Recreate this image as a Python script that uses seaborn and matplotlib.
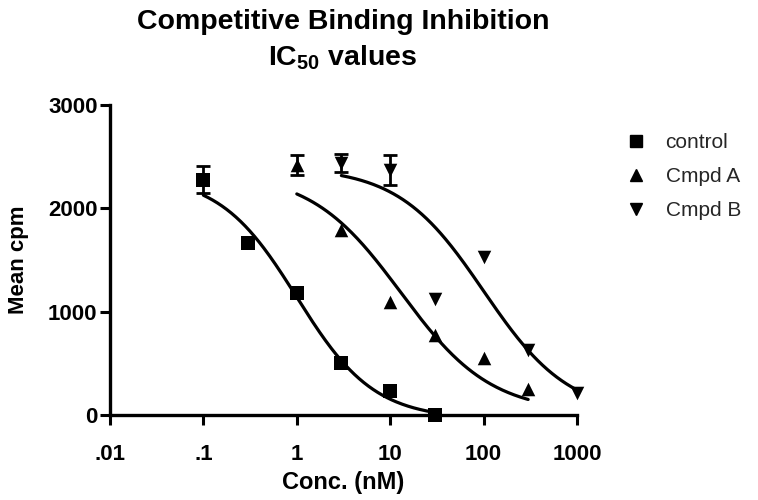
# Competitive binding inhibition - IC50 curves

import numpy as np
import pandas as pd
import matplotlib
matplotlib.use("Agg")
import matplotlib.pyplot as plt
from matplotlib.lines import Line2D
import seaborn as sns

# ------------------------------------------------------------
# DATA
# ------------------------------------------------------------

series_names = ["control", "Cmpd A", "Cmpd B"]
series_markers = ["s", "^", "v"]

conc_control = [0.1, 0.3, 1, 3, 10, 30]
cpm_control = [2275, 1660, 1180, 500, 230, 0]
err_control = [130, 0, 0, 0, 0, 0]

conc_a = [1, 3, 10, 30, 100, 300]
cpm_a = [2420, 1790, 1090, 770, 550, 250]
err_a = [95, 0, 0, 0, 0, 0]

conc_b = [3, 10, 30, 100, 300, 1000]
cpm_b = [2440, 2370, 1120, 1530, 630, 210]
err_b = [85, 145, 0, 0, 0, 0]

# fitted sigmoid parameters
fit_top = [2320, 2350, 2400]
fit_bottom = [-40, 20, 0]
fit_ic50 = [1.0, 13, 100]
fit_hill = [1.05, 0.9, 0.95]

x_ticks = [0.01, 0.1, 1, 10, 100, 1000]
x_tick_labels = [".01", ".1", "1", "10", "100", "1000"]
y_ticks = [0, 1000, 2000, 3000]

# ------------------------------------------------------------
# STYLE
# ------------------------------------------------------------

sns.set_theme(style="ticks")
plt.rcParams["font.family"] = ["Liberation Sans", "DejaVu Sans"]
plt.rcParams["mathtext.fontset"] = "custom"
plt.rcParams["mathtext.rm"] = "Liberation Sans:bold"
plt.rcParams["mathtext.default"] = "rm"

fig = plt.figure(figsize=(7.58, 5), dpi=100)
ax = fig.add_axes([110 / 758, 85 / 500, 467 / 758, 310 / 500])

all_conc = [conc_control, conc_a, conc_b]
all_cpm = [cpm_control, cpm_a, cpm_b]
all_err = [err_control, err_a, err_b]

for i, name in enumerate(series_names):
    df = pd.DataFrame({"conc": all_conc[i], "cpm": all_cpm[i], "err": all_err[i]})

    # fitted curve over the measured range
    xs = np.logspace(np.log10(df["conc"].min()), np.log10(df["conc"].max()), 200)
    ys = fit_bottom[i] + (fit_top[i] - fit_bottom[i]) / (1 + (xs / fit_ic50[i]) ** fit_hill[i])
    sns.lineplot(x=xs, y=ys, ax=ax, color="black", lw=2.3, sort=False)

    # error bars where they show
    e = df[df["err"] > 0]
    ax.errorbar(e["conc"], e["cpm"], yerr=e["err"], fmt="none", ecolor="black",
                elinewidth=2, capsize=5, capthick=2, clip_on=False)

    sns.scatterplot(data=df, x="conc", y="cpm", ax=ax, marker=series_markers[i],
                    s=95, color="black", edgecolor="black", linewidth=0,
                    clip_on=False, zorder=5)

ax.set_xscale("log")
ax.set_xlim(0.01, 1000)
ax.set_ylim(0, 3000)
ax.set_xticks(x_ticks)
ax.set_xticklabels(x_tick_labels)
ax.xaxis.set_minor_locator(matplotlib.ticker.NullLocator())
ax.set_yticks(y_ticks)

for lab in ax.get_xticklabels() + ax.get_yticklabels():
    lab.set_fontweight("bold")
    lab.set_fontsize(16)
    lab.set_color("black")

ax.tick_params(axis="both", length=7, width=2.2, color="black")
ax.tick_params(axis="x", pad=14)
ax.tick_params(axis="y", pad=2)

sns.despine(ax=ax)
for side in ["left", "bottom"]:
    ax.spines[side].set_linewidth(2.4)
    ax.spines[side].set_color("black")

ax.set_xlabel("Conc. (nM)", fontsize=17, fontweight="bold", color="black", labelpad=4)
ax.set_ylabel("Mean cpm", fontsize=16, fontweight="bold", color="black", labelpad=14)

# title
fig.text(0.4525, 1 - 29 / 500, "Competitive Binding Inhibition", ha="center",
         va="baseline", fontsize=20.5, fontweight="bold", color="black")
fig.text(0.4525, 1 - 66 / 500, "IC$_{50}$ values", ha="center",
         va="baseline", fontsize=20.5, fontweight="bold", color="black")

# legend
handles = [Line2D([0], [0], marker=m, color="black", lw=0, markersize=9)
           for m in series_markers]
fig.legend(handles, series_names, loc="upper left",
           bbox_to_anchor=(628 / 758, 1 - 133 / 500), frameon=False,
           fontsize=15, handlelength=0.8, handletextpad=1.0,
           labelspacing=0.72, borderpad=0, borderaxespad=0)

fig.savefig("out.png", dpi=100)
